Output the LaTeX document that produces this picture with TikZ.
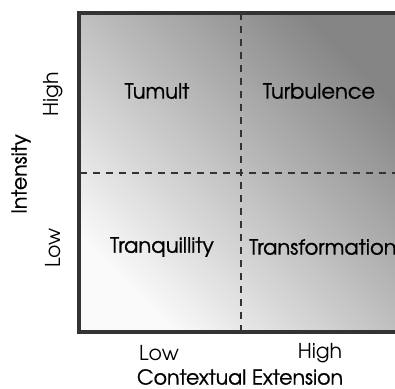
\documentclass[tikz,border=0pt]{standalone}
\usepackage{fontspec}
\setmainfont[FakeBold=0.9]{TeX Gyre Adventor}
\newfontfamily\ticksfont{TeX Gyre Adventor}
\begin{document}
\begin{tikzpicture}[x=1pt,y=1pt,
  lbl/.style={font=\fontsize{21}{25}\selectfont, inner sep=0pt},
  axl/.style={font=\fontsize{20.5}{24}\selectfont, inner sep=0pt},
  tickl/.style={font=\ticksfont\fontsize{20.5}{24}\selectfont, inner sep=0pt},
  divider/.style={dashed, dash pattern=on 7pt off 6pt, line width=1.4pt, draw=black!80},
  frame/.style={line width=3.8pt, draw=black!80}]
\useasboundingbox (0,0) rectangle (395,388);
% shaded field
\shade[shading=axis, top color=black!48, bottom color=black!2, shading angle=-45]
  (79,56) rectangle (400,375);
% frame
\draw[frame] (400,375) -- (79,375) -- (79,56) -- (400,56);
% dividers
\coordinate (vt) at (241,375);
\coordinate (vb) at (241,56);
\coordinate (hl) at (80,215);
\coordinate (hr) at (395,215);
\draw[divider] (vt) -- (vb);
\draw[divider] (hl) -- (hr);
% quadrant labels
\node[lbl] (tumult) at (157,297) {Tumult};
\node[lbl] (turb) at (319,297) {Turbulence};
\node[lbl] (tranq) at (162,141) {Tranquillity};
\node[lbl, anchor=west] (transf) at (249,141) {Transformation};
% axis labels
\node[tickl, rotate=90] (yhigh) at (53,294) {High};
\node[tickl, rotate=90] (ylow) at (53,140) {Low};
\node[axl, rotate=90] (ytitle) at (21,214) {Intensity};
\node[tickl] (xlow) at (159,35) {Low};
\node[tickl] (xhigh) at (320,35) {High};
\node[axl] (xtitle) at (240,11) {Contextual Extension};
\end{tikzpicture}
\end{document}
